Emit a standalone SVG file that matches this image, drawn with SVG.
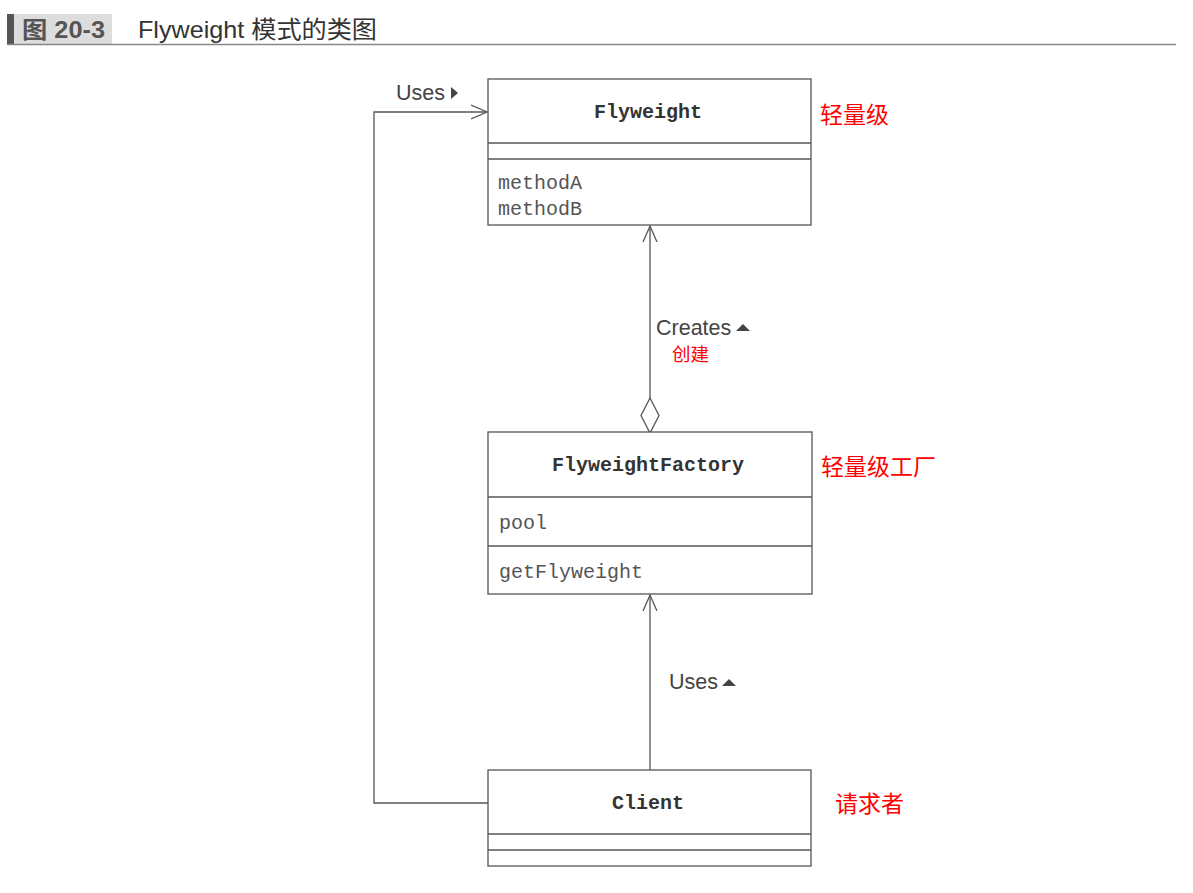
<svg xmlns="http://www.w3.org/2000/svg" width="1193" height="893" viewBox="0 0 1193 893">
<style>
.box{fill:#fff;stroke:#555;stroke-width:1.3}
.ln{stroke:#555;stroke-width:1.3;fill:none}
.name{font-family:"Liberation Mono",monospace;font-weight:bold;font-size:20px;fill:#333;text-anchor:middle}
.mem{font-family:"Liberation Mono",monospace;font-size:20px;fill:#555}
.lbl{font-family:"Liberation Sans",Arial,sans-serif;font-size:21.5px;fill:#444}
.red{font-family:"Noto Sans CJK SC",sans-serif;fill:#f00}
</style>
<defs>
<marker id="open" markerWidth="20" markerHeight="20" refX="16" refY="8" orient="auto" markerUnits="userSpaceOnUse">
<path d="M0,1 L16,8 L0,15" fill="none" stroke="#555" stroke-width="1.3"/>
</marker>
</defs>
<g id="header">
<rect x="7" y="14" width="7" height="31" fill="#555"/>
<rect x="14" y="14" width="98" height="31" fill="#ddd"/>
<text x="22" y="38" font-family="'Liberation Sans','Noto Sans CJK SC',sans-serif" font-size="23" font-weight="bold" fill="#555" textLength="83" lengthAdjust="spacingAndGlyphs">图 20-3</text>
<text x="138" y="38" font-family="'Liberation Sans','Noto Sans CJK SC',sans-serif" font-size="24" fill="#333" textLength="239" lengthAdjust="spacingAndGlyphs">Flyweight 模式的类图</text>
<line x1="7" y1="44.5" x2="1176" y2="44.5" stroke="#888" stroke-width="1.5"/>
</g>
<g id="connectors">
<polyline class="ln" points="488,803 374,803 374,112 487,112" marker-end="url(#open)"/>
<text class="lbl" x="396" y="100">Uses</text>
<path d="M451,87 L458,93 L451,99 Z" fill="#444"/>
<line class="ln" x1="650" y1="398" x2="650" y2="226" marker-end="url(#open)"/>
<path d="M650,398 L659,415.5 L650,433 L641,415.5 Z" fill="#fff" stroke="#555" stroke-width="1.3"/>
<text class="lbl" x="656" y="335">Creates</text>
<path d="M736,331 L743,324 L750,331 Z" fill="#444"/>
<text class="red" x="672" y="361" font-size="18.5">创建</text>
<line class="ln" x1="650" y1="770" x2="650" y2="595" marker-end="url(#open)"/>
<text class="lbl" x="669" y="689">Uses</text>
<path d="M722,686 L729,679 L736,686 Z" fill="#444"/>
</g>
<g id="flyweight">
<rect class="box" x="488" y="79" width="323" height="146"/>
<line class="ln" x1="488" y1="143" x2="811" y2="143"/>
<line class="ln" x1="488" y1="159" x2="811" y2="159"/>
<text class="name" x="648" y="118">Flyweight</text>
<text class="mem" x="498" y="189">methodA</text>
<text class="mem" x="498" y="215">methodB</text>
<text class="red" x="820" y="123" font-size="23">轻量级</text>
</g>
<g id="factory">
<rect class="box" x="488" y="432" width="324" height="162"/>
<line class="ln" x1="488" y1="497" x2="812" y2="497"/>
<line class="ln" x1="488" y1="546" x2="812" y2="546"/>
<text class="name" x="648" y="471">FlyweightFactory</text>
<text class="mem" x="499" y="529">pool</text>
<text class="mem" x="499" y="578">getFlyweight</text>
<text class="red" x="821" y="475" font-size="23">轻量级工厂</text>
</g>
<g id="client">
<rect class="box" x="488" y="770" width="323" height="96"/>
<line class="ln" x1="488" y1="834" x2="811" y2="834"/>
<line class="ln" x1="488" y1="850" x2="811" y2="850"/>
<text class="name" x="648" y="809">Client</text>
<text class="red" x="835" y="812" font-size="23">请求者</text>
</g>
</svg>
